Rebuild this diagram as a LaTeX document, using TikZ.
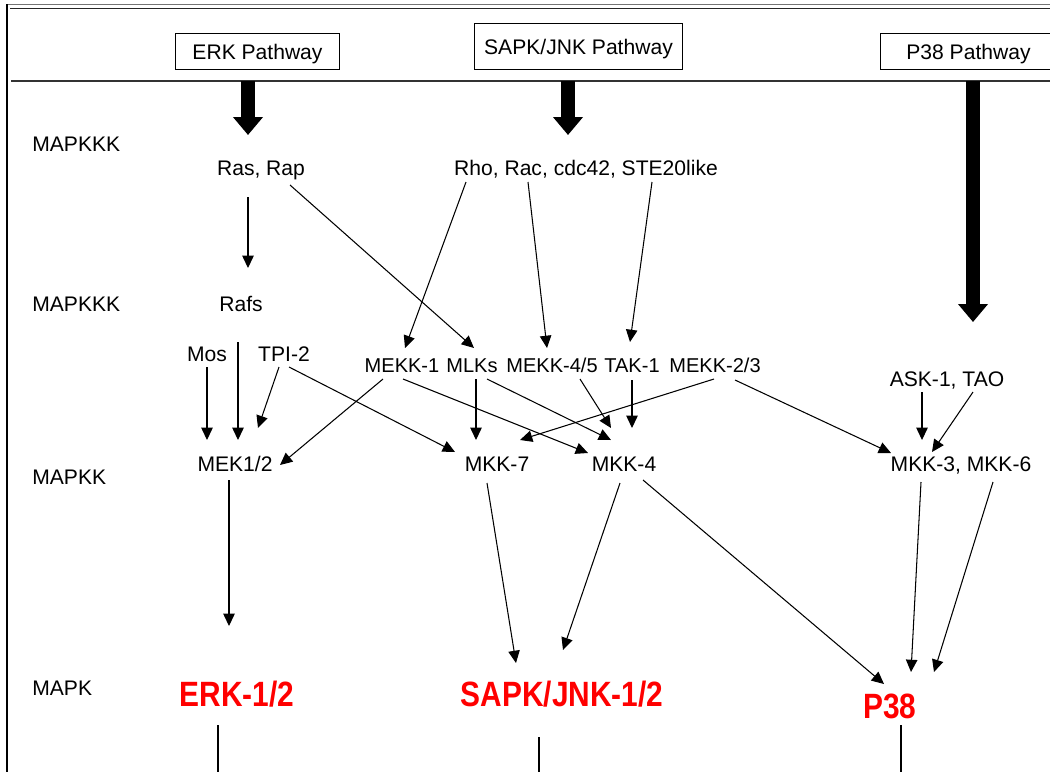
\documentclass[tikz,border=0pt]{standalone}
\usepackage{fontspec}
\setmainfont{Liberation Sans}
\usetikzlibrary{arrows.meta,calc}

\newcommand{\kinase}[1]{\scalebox{0.85}[1]{#1}}

\tikzset{
    lbl/.style={font=\fontsize{12}{14}\selectfont, inner sep=0pt, text height=8.6pt, text depth=0pt},
    rowlbl/.style={lbl, font=\fontsize{11.4}{14}\selectfont},
    pathbox/.style={lbl, draw, line width=0.6pt, fill=white},
    mapk/.style={font=\fontsize{20}{24}\selectfont\bfseries, text=red, inner sep=0pt, text height=14.3pt, text depth=0pt},
    arr/.style={-{Triangle[length=7pt,width=6.5pt]}, line width=0.6pt},
    fat/.style={-{Triangle[length=10.2pt,width=16.4pt]}, line width=7.9pt},
    stem/.style={line width=0.6pt},
}

\begin{document}
\begin{tikzpicture}[x=0.02cm, y=-0.02cm]
    \useasboundingbox (0,0) rectangle (1050,772);
    % frame and header rule
    \draw[black!55, line width=0.8pt] (6,4.7) -- (1050,4.7);
    \draw[black!85, line width=0.8pt] (10,8.7) -- (1050,8.7);
    \draw[line width=1.3pt] (7,4) -- (7,772);
    \draw[black!80, line width=1.2pt] (11,81) -- (1050,81);

    \node[pathbox, minimum width=93.5pt, minimum height=21pt] (erkbox) at (257.5,51.5) {ERK Pathway};
    \node[pathbox, minimum width=118.5pt, minimum height=26.6pt] (jnkbox) at (578.5,46.5) {SAPK/JNK Pathway};
    \node[pathbox, minimum width=100.3pt, minimum height=21pt] (p38box) at (968.5,51.5) {P38 Pathway};

    \node[lbl, anchor=west] (lvla) at (32,144) {MAPKKK};
    \node[lbl, anchor=west] (lvlb) at (32,304) {MAPKKK};
    \node[lbl, anchor=west] (lvlc) at (32,477) {MAPKK};
    \node[lbl, anchor=west] (lvld) at (32,688) {MAPK};

    \node[lbl] (ras) at (261,168) {Ras, Rap};
    \node[lbl] (rho) at (586,168) {Rho, Rac, cdc42, STE20like};
    \node[lbl] (rafs) at (241,304) {Rafs};
    \node[lbl] (mos) at (207,354) {Mos};
    \node[lbl] (tpi) at (284,354) {TPI-2};
    \node[rowlbl] (mekka) at (402,365) {MEKK-1};
    \node[rowlbl] (mlks) at (472,365) {MLKs};
    \node[rowlbl] (mekkb) at (552,365) {MEKK-4/5};
    \node[rowlbl] (tak) at (632,365) {TAK-1};
    \node[rowlbl] (mekkc) at (715,365) {MEKK-2/3};
    \node[lbl] (ask) at (947,379) {ASK-1, TAO};
    \node[lbl] (mek) at (235,464) {MEK1/2};
    \node[lbl] (mkkg) at (497,464) {MKK-7};
    \node[lbl] (mkkd) at (624,464) {MKK-4};
    \node[lbl] (mkkc) at (961,464) {MKK-3, MKK-6};
    \node[mapk] (erk) at (237,694) {\kinase{ERK-1/2}};
    \node[mapk] (jnk) at (562,694) {\kinase{SAPK/JNK-1/2}};
    \node[mapk] (pte) at (890,706) {\kinase{P38}};

    \coordinate (erkin) at (248,81);
    \coordinate (jnkin) at (568,81);
    \coordinate (p38in) at (973,81);
    \coordinate (erkout) at (218,772);
    \coordinate (jnkout) at (539,772);
    \coordinate (p38out) at (901,772);

    \draw[fat] (erkin) -- ($(ras)+(-13,-33)$);
    \draw[fat] (jnkin) -- ($(rho)+(-18,-33)$);
    \draw[fat] (p38in) -- ($(ask)+(26,-57)$);

    \draw[arr] ($(ras)+(-13,29)$) -- ($(rafs)+(7,-36)$);
    \draw[arr] ($(ras)+(29,17)$) -- ($(mlks)+(2,-17)$);
    \draw[arr] ($(rho)+(-120,14)$) -- ($(mekka)+(3,-17)$);
    \draw[arr] ($(rho)+(-58,14)$) -- ($(mekkb)+(-5,-17)$);
    \draw[arr] ($(rho)+(66,14)$) -- ($(tak)+(-2,-23)$);

    \draw[arr] ($(rafs)+(-3,38)$) -- ($(mek)+(3,-24)$);
    \draw[arr] ($(mos)+(0,13)$) -- ($(mek)+(-28,-24)$);
    \draw[arr] ($(tpi)+(-5,13)$) -- ($(mek)+(23,-36)$);
    \draw[arr] ($(tpi)+(5,13)$) -- ($(mkkg)+(-42,-12)$);
    \draw[arr] ($(mekka)+(-19,14)$) -- ($(mek)+(45,1)$);
    \draw[arr] ($(mekka)+(1,14)$) -- ($(mkkd)+(-36,-11)$);
    \draw[arr] ($(mlks)+(4,14)$) -- ($(mkkg)+(-21,-24)$);
    \draw[arr] ($(mlks)+(15,14)$) -- ($(mkkd)+(-13,-24)$);
    \draw[arr] ($(mekkb)+(28,14)$) -- ($(mkkd)+(-13,-36)$);
    \draw[arr] ($(tak)+(0,15)$) -- ($(mkkd)+(8,-36)$);
    \draw[arr] ($(mekkc)+(-1,14)$) -- ($(mkkg)+(23,-24)$);
    \draw[arr] ($(mekkc)+(20,15)$) -- ($(mkkc)+(-70,-11)$);
    \draw[arr] ($(ask)+(-25,13)$) -- ($(mkkc)+(-39,-24)$);
    \draw[arr] ($(ask)+(26,13)$) -- ($(mkkc)+(-29,-12)$);

    \draw[arr] ($(mek)+(-6,16)$) -- ($(erk)+(-8,-68)$);
    \draw[arr] ($(mkkg)+(-10,19)$) -- ($(jnk)+(-46,-31)$);
    \draw[arr] ($(mkkd)+(-4,19)$) -- ($(jnk)+(1,-44)$);
    \draw[arr] ($(mkkd)+(19,16)$) -- ($(pte)+(-6,-22)$);
    \draw[arr] ($(mkkc)+(-40,18)$) -- ($(pte)+(21,-34)$);
    \draw[arr] ($(mkkc)+(32,18)$) -- ($(pte)+(44,-34)$);

    \draw[stem] ($(erk)+(-19,31)$) -- (erkout);
    \draw[stem] ($(jnk)+(-23,43)$) -- (jnkout);
    \draw[stem] ($(pte)+(11,19)$) -- (p38out);
\end{tikzpicture}
\end{document}
